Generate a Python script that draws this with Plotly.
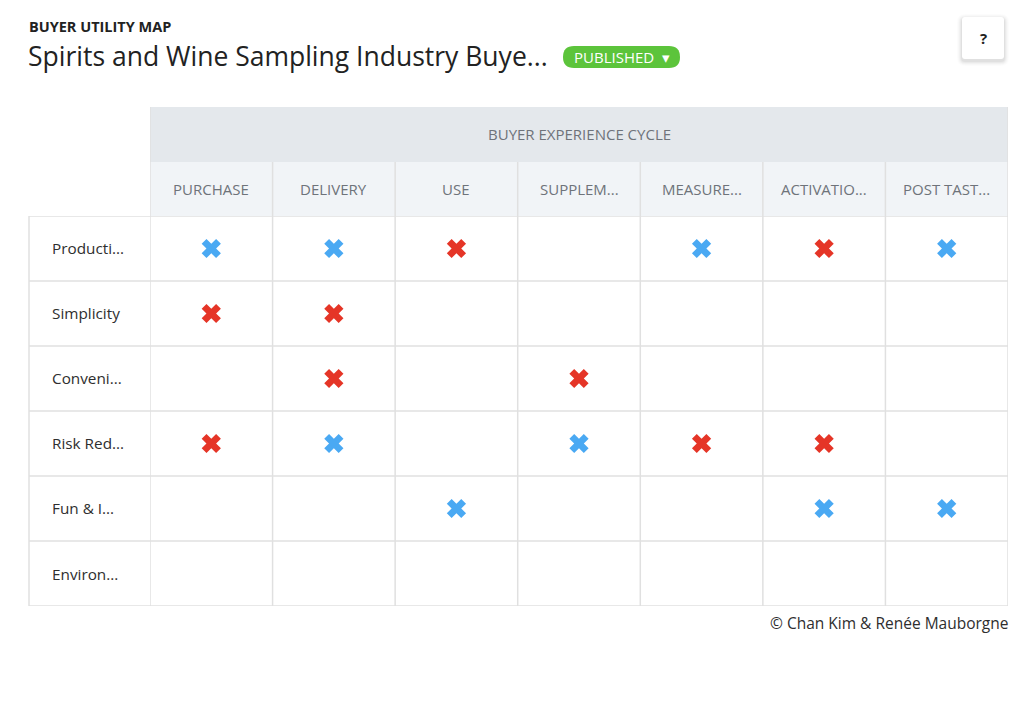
import plotly.graph_objects as go

# ---- data ----
stages = ["PURCHASE", "DELIVERY", "USE", "SUPPLEM...", "MEASURE...", "ACTIVATIO...", "POST TAST..."]
levers = ["Producti...", "Simplicity", "Conveni...", "Risk Red...", "Fun & I...", "Environ..."]
blue_stage = ["PURCHASE", "DELIVERY", "MEASURE...", "POST TAST...", "DELIVERY", "SUPPLEM...", "USE", "ACTIVATIO...", "POST TAST..."]
blue_lever = ["Producti...", "Producti...", "Producti...", "Producti...", "Risk Red...", "Risk Red...", "Fun & I...", "Fun & I...", "Fun & I..."]
red_stage = ["USE", "ACTIVATIO...", "PURCHASE", "DELIVERY", "DELIVERY", "SUPPLEM...", "PURCHASE", "MEASURE...", "ACTIVATIO..."]
red_lever = ["Producti...", "Producti...", "Simplicity", "Simplicity", "Conveni...", "Conveni...", "Risk Red...", "Risk Red...", "Risk Red..."]

# page body has an 8px margin: figure is placed at (8, 8)
OX, OY = 8, 8
W, H = 1016, 694
FONT = "Open Sans"
GRID = "#e0e0e0"


def px(x):
    return (x - OX) / W


def py(y):
    return 1 - (y - OY) / H


ncol, nrow = len(stages), len(levers)
X0, X1 = 150, 1008      # data columns
Y0, Y1 = 216, 606       # data rows
LX = 29                 # left edge of label column
HDR_TOP, HDR_MID = 107, 162

fig = go.Figure()

fig.add_trace(go.Scatter(
    x=[stages.index(s) for s in blue_stage], y=[levers.index(l) for l in blue_lever],
    mode="markers", marker=dict(symbol="x", size=17, color="#4aa9f3", line=dict(width=0)),
    hoverinfo="skip", showlegend=False))
fig.add_trace(go.Scatter(
    x=[stages.index(s) for s in red_stage], y=[levers.index(l) for l in red_lever],
    mode="markers", marker=dict(symbol="x", size=17, color="#e53527", line=dict(width=0)),
    hoverinfo="skip", showlegend=False))

shapes = []
# header bands
shapes.append(dict(type="rect", xref="paper", yref="paper", x0=px(X0), x1=px(X1), y0=py(HDR_TOP), y1=py(HDR_MID),
                   fillcolor="#e4e8ec", line=dict(width=0), layer="below"))
shapes.append(dict(type="rect", xref="paper", yref="paper", x0=px(X0), x1=px(X1), y0=py(HDR_MID), y1=py(Y0),
                   fillcolor="#f1f4f7", line=dict(width=0), layer="below"))
# vertical column separators (data coords on x)
for i in range(ncol + 1):
    xv = i - 0.5
    top = HDR_TOP if i in (0, ncol) else HDR_MID
    shapes.append(dict(type="line", xref="x", yref="paper", x0=xv, x1=xv, y0=py(top), y1=py(Y1),
                       line=dict(color=GRID, width=1.5)))
# left border of label column
shapes.append(dict(type="line", xref="paper", yref="paper", x0=px(LX), x1=px(LX), y0=py(Y0), y1=py(Y1),
                   line=dict(color=GRID, width=1.5)))
# horizontal row separators
for j in range(nrow + 1):
    yv = j - 0.5
    shapes.append(dict(type="line", xref="paper", yref="y", x0=px(LX), x1=px(X1), y0=yv, y1=yv,
                       line=dict(color=GRID, width=1.5)))


def rounded(x0, y0, x1, y1, r):
    return (f"M {px(x0 + r)},{py(y0)} L {px(x1 - r)},{py(y0)} "
            f"Q {px(x1)},{py(y0)} {px(x1)},{py(y0 + r)} L {px(x1)},{py(y1 - r)} "
            f"Q {px(x1)},{py(y1)} {px(x1 - r)},{py(y1)} L {px(x0 + r)},{py(y1)} "
            f"Q {px(x0)},{py(y1)} {px(x0)},{py(y1 - r)} L {px(x0)},{py(y0 + r)} "
            f"Q {px(x0)},{py(y0)} {px(x0 + r)},{py(y0)} Z")


# help button soft shadow + box
for d, a in [(5, 0.012), (4, 0.016), (3, 0.022), (2, 0.03), (1, 0.04)]:
    shapes.append(dict(type="path", xref="paper", yref="paper",
                       path=rounded(962 - d, 17 - d + 2, 1004 + d, 59 + d + 2, 3 + d),
                       fillcolor=f"rgba(0,0,0,{a})", line=dict(width=0)))
shapes.append(dict(type="path", xref="paper", yref="paper", path=rounded(962, 17, 1004, 59, 3),
                   fillcolor="white", line=dict(width=0)))

# published badge
shapes.append(dict(type="path", xref="paper", yref="paper", path=rounded(563, 46, 680, 68, 11),
                   fillcolor="#5cc43b", line=dict(width=0)))

ann = []
ann.append(dict(text="<b>BUYER UTILITY MAP</b>", x=px(27), y=py(26), xref="paper", yref="paper",
                xanchor="left", yanchor="middle", showarrow=False, font=dict(family=FONT, size=14.5, color="#222")))
ann.append(dict(text="Spirits and Wine Sampling Industry Buye...", x=px(26), y=py(56), xref="paper", yref="paper",
                xanchor="left", yanchor="middle", showarrow=False, font=dict(family=FONT, size=26.5, color="#222")))
ann.append(dict(text="PUBLISHED  ▾", x=px(621.5), y=py(57.5), xref="paper", yref="paper",
                xanchor="center", yanchor="middle", showarrow=False, font=dict(family=FONT, size=15, color="white")))
ann.append(dict(text="<b>?</b>", x=px(983), y=py(38), xref="paper", yref="paper",
                xanchor="center", yanchor="middle", showarrow=False, font=dict(family=FONT, size=15, color="#222")))
ann.append(dict(text="BUYER EXPERIENCE CYCLE", x=px((X0 + X1) / 2), y=py(134), xref="paper", yref="paper",
                xanchor="center", yanchor="middle", showarrow=False, font=dict(family=FONT, size=15, color="#6e737a")))
for i, s in enumerate(stages):
    ann.append(dict(text=s, x=i, y=py(189), xref="x", yref="paper", xanchor="center", yanchor="middle",
                    showarrow=False, font=dict(family=FONT, size=15, color="#6e737a")))
for j, l in enumerate(levers):
    ann.append(dict(text=l, x=px(50), y=j, xref="paper", yref="y", xanchor="left", yanchor="middle",
                    showarrow=False, font=dict(family=FONT, size=15.3, color="#2e2e2e")))
ann.append(dict(text="© Chan Kim & Renée Mauborgne", x=px(1010), y=py(623), xref="paper", yref="paper",
                xanchor="right", yanchor="middle", showarrow=False, font=dict(family=FONT, size=15.5, color="#2e2e2e")))

fig.update_layout(
    width=W, height=H, margin=dict(l=0, r=0, t=0, b=0),
    paper_bgcolor="white", plot_bgcolor="white",
    xaxis=dict(domain=[px(X0), px(X1)], range=[-0.5, ncol - 0.5], showgrid=False, zeroline=False,
               showticklabels=False, ticks="", fixedrange=True),
    yaxis=dict(domain=[py(Y1), py(Y0)], range=[nrow - 0.5, -0.5], showgrid=False, zeroline=False,
               showticklabels=False, ticks="", fixedrange=True),
    shapes=shapes, annotations=ann, showlegend=False,
)

fig.write_html("out.html", config={"displayModeBar": False})
